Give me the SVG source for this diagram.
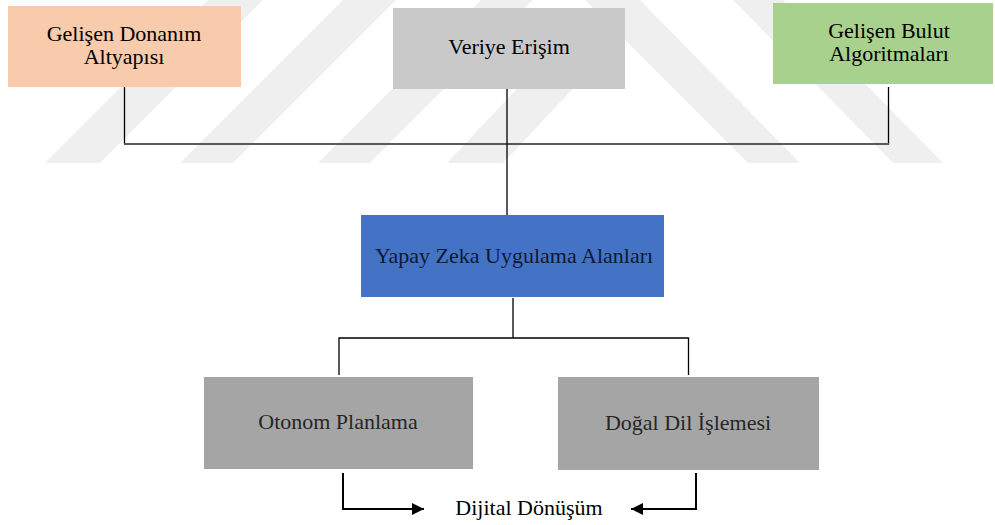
<svg xmlns="http://www.w3.org/2000/svg" width="995" height="525" viewBox="0 0 995 525">
  <defs>
    <style>
      text { font-family: "Liberation Serif", "Times New Roman", serif; font-size: 22px; text-anchor: middle; }
      .wire { fill: none; stroke: #000; stroke-width: 1.3; }
      .bus { fill: none; stroke: #5a5a5a; stroke-width: 2; }
      .flow { fill: none; stroke: #000; stroke-width: 2; }
      .mark { fill: #efefef; }
    </style>
    <marker id="head" viewBox="0 0 10 10" refX="10" refY="5" markerWidth="7" markerHeight="6" markerUnits="strokeWidth" orient="auto">
      <path d="M0,0 L10,5 L0,10 z" fill="#000"/>
    </marker>
  </defs>

  <rect width="995" height="525" fill="#fff"/>

  <!-- faint background emblem stripes -->
  <g id="emblem">
    <polygon class="mark" points="45,163 100,163 263,0 208,0"/>
    <polygon class="mark" points="180,163 233,163 396,0 343,0"/>
    <polygon class="mark" points="318,163 370,163 533,0 481,0"/>
    <polygon class="mark" points="447,163 503,163 600,60 544,60"/>
    <polygon class="mark" points="585,0 640,0 800,163 748,163"/>
    <polygon class="mark" points="733,0 783,0 943,163 893,163"/>
  </g>

  <!-- connectors -->
  <g id="connectors">
    <polyline class="wire" points="124.5,87 124.5,144"/>
    <polyline class="wire" points="888.5,87 888.5,145"/>
    <line class="bus" x1="124" y1="144" x2="889" y2="144"/>
    <line class="wire" x1="507" y1="89" x2="507" y2="215"/>
    <line class="wire" x1="513" y1="298" x2="513" y2="338"/>
    <polyline class="wire" points="339,375 339,338 688.5,338 688.5,375"/>
    <polyline class="flow" points="343,473 343,509 424,509" marker-end="url(#head)"/>
    <polyline class="flow" points="696,473 696,509 631,509" marker-end="url(#head)"/>
  </g>

  <g id="hardware">
    <rect x="8" y="6" width="233" height="81" fill="#f8cbad"/>
    <text x="124" y="41" fill="#000">Gelişen Donanım</text>
    <text x="124" y="64" fill="#000">Altyapısı</text>
  </g>

  <g id="data-access">
    <rect x="393" y="8" width="232" height="81" fill="#c9c9c9"/>
    <text x="509" y="54" fill="#000">Veriye Erişim</text>
  </g>

  <g id="cloud">
    <rect x="773" y="3" width="220" height="81" fill="#a9d18e"/>
    <text x="889" y="38" fill="#000">Gelişen Bulut</text>
    <text x="889" y="61" fill="#000">Algoritmaları</text>
  </g>

  <g id="ai-areas">
    <rect x="361" y="215" width="303" height="82" fill="#4472c4"/>
    <text x="514" y="263" fill="#0e1a30">Yapay Zeka Uygulama Alanları</text>
  </g>

  <g id="planning">
    <rect x="204" y="377" width="269" height="92" fill="#a5a5a5"/>
    <text x="338" y="429" fill="#262626">Otonom Planlama</text>
  </g>

  <g id="nlp">
    <rect x="558" y="377" width="261" height="93" fill="#a5a5a5"/>
    <text x="688" y="430" fill="#262626">Doğal Dil İşlemesi</text>
  </g>

  <g id="transformation">
    <text x="529" y="515" fill="#000">Dijital Dönüşüm</text>
  </g>
</svg>
